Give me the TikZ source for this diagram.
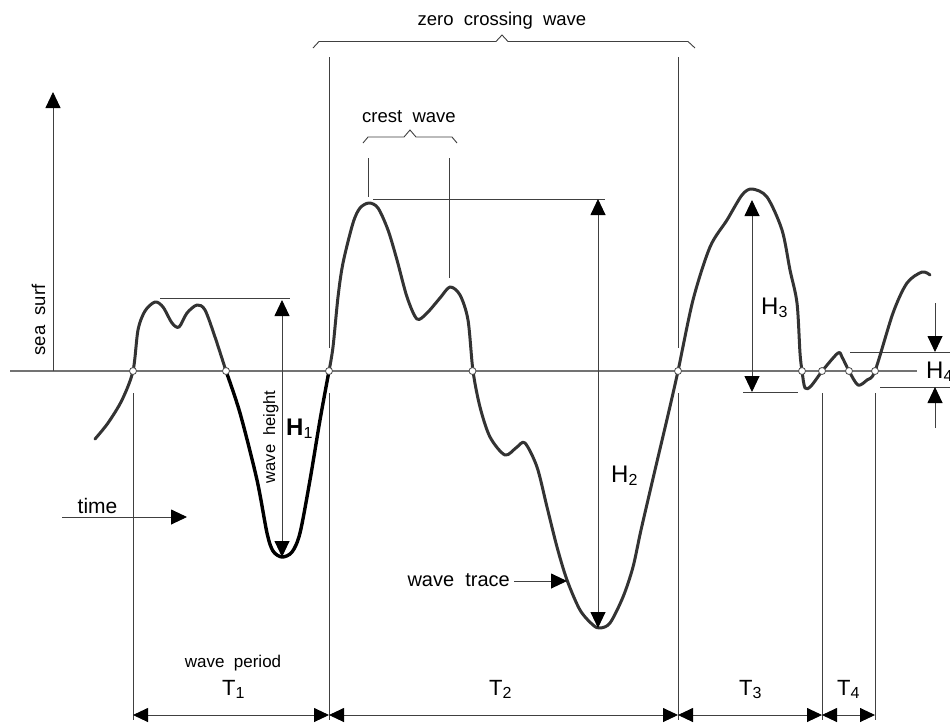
\documentclass[tikz,border=0pt]{standalone}
\usepackage{fontspec}
\setmainfont{Liberation Sans}
\usetikzlibrary{arrows.meta}
\newcommand\mysub[2]{#1\raisebox{-3pt}{\fontsize{16}{16}\selectfont #2}}
\begin{document}
\begin{tikzpicture}[x=1pt,y=-1pt,
  fine/.style={draw=black!75, line width=0.9pt},
  zeroline/.style={draw=black!55, line width=1.3pt},
  arr/.style={fine, -{Triangle[length=16pt,width=15pt,color=black]}},
  dbl/.style={fine, {Triangle[length=15pt,width=14pt,color=black]}-{Triangle[length=15pt,width=14pt,color=black]}},
  dblbig/.style={fine, {Triangle[length=16pt,width=15pt,color=black]}-{Triangle[length=16pt,width=15pt,color=black]}},
  trace/.style={draw=black!80, line width=3pt, line join=round, line cap=round},
  tracebold/.style={draw=black, line width=3.4pt, line join=round, line cap=round},
  cross/.style={circle, draw=black!70, fill=white, inner sep=0pt, minimum size=7pt, line width=0.8pt},
  lbl/.style={inner sep=0pt, font=\fontsize{18.5}{20}\selectfont},
  hlbl/.style={inner sep=0pt, font=\fontsize{24}{26}\selectfont},
  tlbl/.style={inner sep=0pt, font=\fontsize{22}{24}\selectfont},
]
\clip (0,0) rectangle (950,724);
\fill[white] (0,0) rectangle (950,724);

% zero line and sea surface axis
\coordinate (zl) at (10,371);
\coordinate (zr) at (917,371);
\draw[zeroline] (zl) -- (zr);
\coordinate (ax0) at (53,371);
\coordinate (ax1) at (53,92);
\draw[arr] (ax0) -- (ax1);
\node[lbl, rotate=90, anchor=base] (seasurf) at (45,320) {sea~ surf};

% time arrow
\coordinate (t0) at (62,517);
\coordinate (t1) at (187,517);
\draw[arr] (t0) -- (t1);
\node[inner sep=0pt, font=\fontsize{21}{23}\selectfont, anchor=base] (time) at (97.5,513) {time};

% top brace
\node[lbl, anchor=base] (zcw) at (502,25) {zero~ crossing~ wave};
\draw[fine] (313,48) -- (319,41.5) -- (496,41.5) -- (502,35) -- (508,41.5) -- (688,41.5) -- (695,48);

% crest brace
\node[lbl, anchor=base] (cw) at (409,122) {crest~ wave};
\draw[fine] (363,143) -- (368,137) -- (404,137) -- (410,130) -- (416,137) -- (452,137) -- (457,143);
\draw[fine] (368,158) -- (368,197);
\draw[fine] (449,158) -- (449,278);

% vertical period lines
\draw[fine] (329,57) -- (329,348);
\draw[fine] (678,57) -- (678,348);
\foreach \xx in {133,329,678,822,875}{\draw[fine] (\xx,393) -- (\xx,720);}

% horizontal reference lines
\draw[fine] (160,298) -- (290,298);
\draw[fine] (373,199) -- (605,199);
\draw[fine] (743,392) -- (798,392);
\draw[fine] (850,352) -- (950,352);
\draw[fine] (880,387) -- (950,387);

% wave trace
\draw[trace] plot[smooth, tension=0.5] coordinates {(95,439) (108,423) (122,400) (133,371) (138,330) (145,311) (155,302) (163,307) (172,323) (179,327) (187,313) (197,305) (205,310) (215,337) (226,371)};
\draw[tracebold] plot[smooth, tension=0.5] coordinates {(226,371) (240,413) (257,480) (267,533) (273,551) (282,557) (292,552) (300,533) (310,480) (320,420) (329,371)};
\draw[trace] plot[smooth, tension=0.5] coordinates {(329,371) (333,347) (338,297) (343,263) (353,223) (360,208) (369,203) (378,208) (388,230) (397,260) (407,297) (417,319) (427,313) (440,298) (450,287) (460,295) (468,320) (473,371) (480,407) (490,437) (505,455) (517,447) (525,443) (537,467) (547,507) (557,547) (567,580) (580,610) (593,625) (600,628) (610,623) (623,597) (633,567) (641,530) (655,470) (668,415) (678,371) (693,300) (710,247) (727,220) (742,195) (752,189) (767,197) (782,230) (790,270) (797,303) (800,353) (802,371) (805,388) (811,386) (823,370) (838,353) (842,357) (849,371) (858,385) (867,380) (875,371) (893,313) (907,283) (922,272) (930,275)};

% zero crossings
\foreach \xx [count=\i] in {133,226,329,472.5,678,802,822,849,875}{\node[cross] (c\i) at (\xx,371) {};}

% wave heights
\coordinate (h1a) at (282,300); \coordinate (h1b) at (282,557);
\draw[dblbig] (h1a) -- (h1b);
\node[lbl, font=\fontsize{16.5}{18}\selectfont, rotate=90, anchor=base] (wh) at (275,437) {wave~ height};
\node[hlbl, anchor=base west] (H1) at (286,435) {\mysub{\textbf{H}}{1}};

\coordinate (h2a) at (598,199); \coordinate (h2b) at (598,628);
\draw[dblbig] (h2a) -- (h2b);
\node[hlbl, anchor=base west] (H2) at (611,482) {\mysub{H}{2}};

\coordinate (h3a) at (752,200); \coordinate (h3b) at (752,392);
\draw[dblbig] (h3a) -- (h3b);
\node[hlbl, anchor=base west] (H3) at (761,314) {\mysub{H}{3}};

\coordinate (h4a) at (935,303); \coordinate (h4b) at (935,352);
\coordinate (h4c) at (935,428); \coordinate (h4d) at (935,387);
\draw[arr] (h4a) -- (h4b);
\draw[arr] (h4c) -- (h4d);
\node[hlbl, anchor=base west] (H4) at (926,378) {\mysub{H}{4}};

% wave trace label
\node[inner sep=0pt, font=\fontsize{20}{22}\selectfont, anchor=base east] (wt) at (510,586) {wave~ trace};
\coordinate (wt0) at (514,581); \coordinate (wt1) at (567,581);
\draw[arr] (wt0) -- (wt1);

% periods
\coordinate (p1) at (133,715); \coordinate (p2) at (329,715); \coordinate (p3) at (678,715);
\coordinate (p4) at (822,715); \coordinate (p5) at (875,715);
\draw[dbl] (p1) -- (p2);
\draw[dbl] (p2) -- (p3);
\draw[dbl] (p3) -- (p4);
\draw[dbl] (p4) -- (p5);
\node[inner sep=0pt, font=\fontsize{17}{19}\selectfont, anchor=base] (wp) at (233,667) {wave~ period};
\node[tlbl, anchor=base west] (T1) at (222,695) {\mysub{T}{1}};
\node[tlbl, anchor=base west] (T2) at (489,695) {\mysub{T}{2}};
\node[tlbl, anchor=base west] (T3) at (739,695) {\mysub{T}{3}};
\node[tlbl, anchor=base west] (T4) at (837,695) {\mysub{T}{4}};
\end{tikzpicture}
\end{document}
